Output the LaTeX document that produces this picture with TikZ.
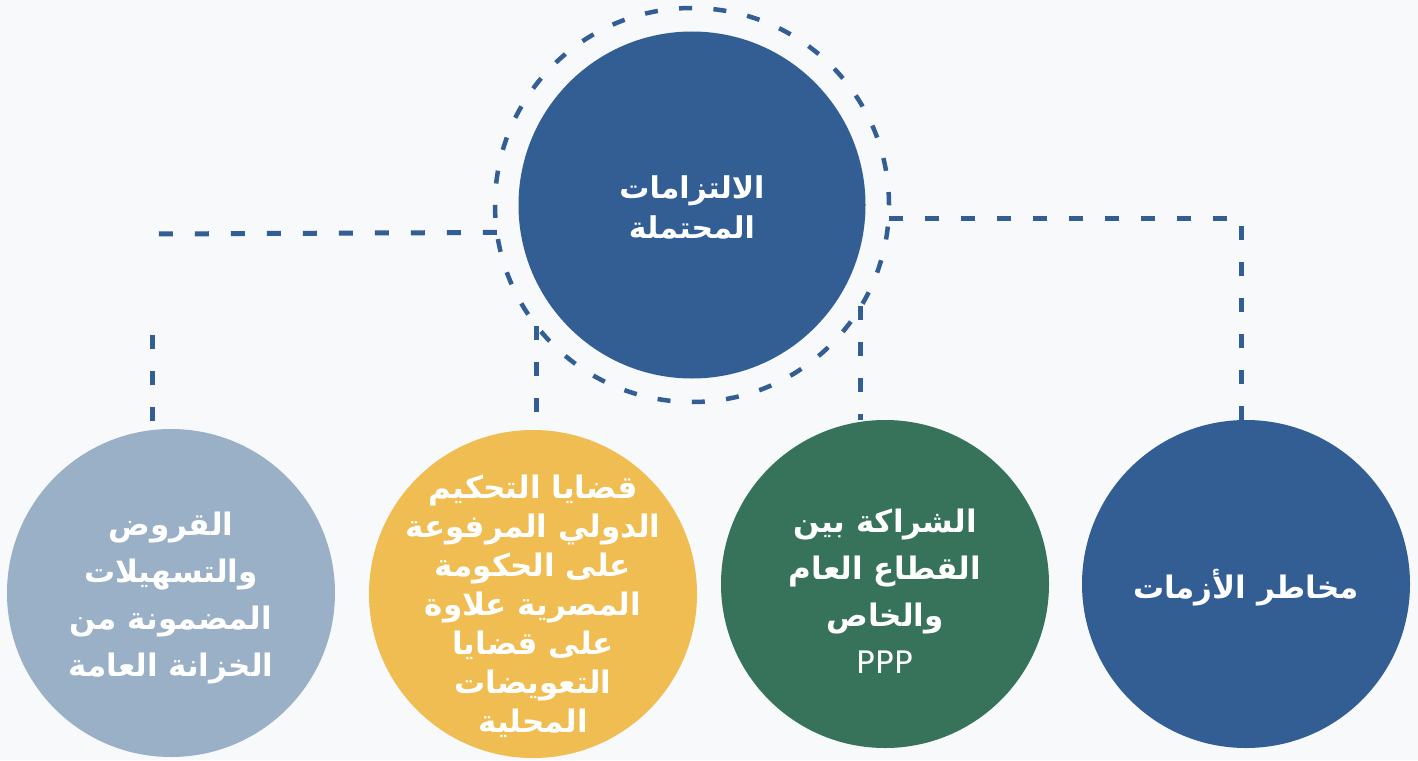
\documentclass[tikz,border=0pt]{standalone}
\usepackage{fontspec}
\setmainfont{DejaVu Sans}
\newfontfamily\arabicfont[Script=Arabic]{DejaVu Sans}
\TeXXeTstate=1
\definecolor{bgpaper}{HTML}{F7F9FB}
\definecolor{navy}{HTML}{325E94}
\definecolor{slate}{HTML}{99B0C6}
\definecolor{mustard}{HTML}{EFBD51}
\definecolor{pine}{HTML}{36735A}
\newcommand{\arline}[1]{\beginR#1\endR}

\begin{document}
\begin{tikzpicture}[x=1pt,y=-1pt,every node/.style={shape=circle,inner sep=0pt,outer sep=0pt,minimum size=328pt}]
  \tikzstyle{txt}=[shape=rectangle,minimum size=0pt,text=white,align=center,font=\arabicfont\bfseries\fontsize{30}{40}\selectfont]
  \tikzstyle{link}=[draw=navy,line width=5pt,dash pattern=on 14pt off 22pt]

  \fill[bgpaper] (0,0) rectangle (1418,760);
  \useasboundingbox (0,0) rectangle (1418,760);

  % Specification of nodes (position, etc.)
  \node[draw=navy,line width=4.5pt,dash pattern=on 13pt off 21.38pt,minimum size=394pt] (ring) at (692,205) {};
  \node[fill=navy,minimum size=347pt] (top) at (692,205) {};
  \node[fill=slate] (gry) at (171,593) {};
  \node[fill=mustard] (ylw) at (533,594) {};
  \node[fill=pine] (grn) at (885,584) {};
  \node[fill=navy] (blu) at (1246,584) {};

  \node[txt] (toplbl) at (692,207) {\arline{الالتزامات}\\\arline{المحتملة}};
  \node[txt,font=\arabicfont\bfseries\fontsize{31}{47}\selectfont] (grylbl) at (171,598) {\arline{القروض}\\\arline{والتسهيلات}\\\arline{المضمونة من}\\\arline{الخزانة العامة}};
  \node[txt,font=\arabicfont\bfseries\fontsize{31}{39}\selectfont] (ylwlbl) at (533,606) {\arline{قضايا التحكيم}\\\arline{الدولي المرفوعة}\\\arline{على الحكومة}\\\arline{المصرية علاوة}\\\arline{على قضايا}\\\arline{التعويضات}\\\arline{المحلية}};
  \node[txt,font=\arabicfont\bfseries\fontsize{31}{47}\selectfont] (grnlbl) at (885,591) {\arline{الشراكة بين}\\\arline{القطاع العام}\\\arline{والخاص}\\{\mdseries PPP}};
  \node[txt,font=\arabicfont\bfseries\fontsize{31}{40}\selectfont] (blulbl) at (1246,588) {\arline{مخاطر الأزمات}};

  \coordinate (lend) at (154,234);
  \coordinate (ldrop) at (152,335);

  \begin{scope}[-]
    \draw[link] (ring.188.5) to (lend);
    \draw[link] (ldrop) to (ldrop |- gry.north);
    \draw[link] (ring.218.6) to (ring.218.6 |- ylw.north);
    \draw[link] (ring.329.7) to (ring.329.7 |- grn.north);
    \draw[link] (ring.356.2) -| ([xshift=-5pt]blu.north);
  \end{scope}

\end{tikzpicture}
\end{document}
